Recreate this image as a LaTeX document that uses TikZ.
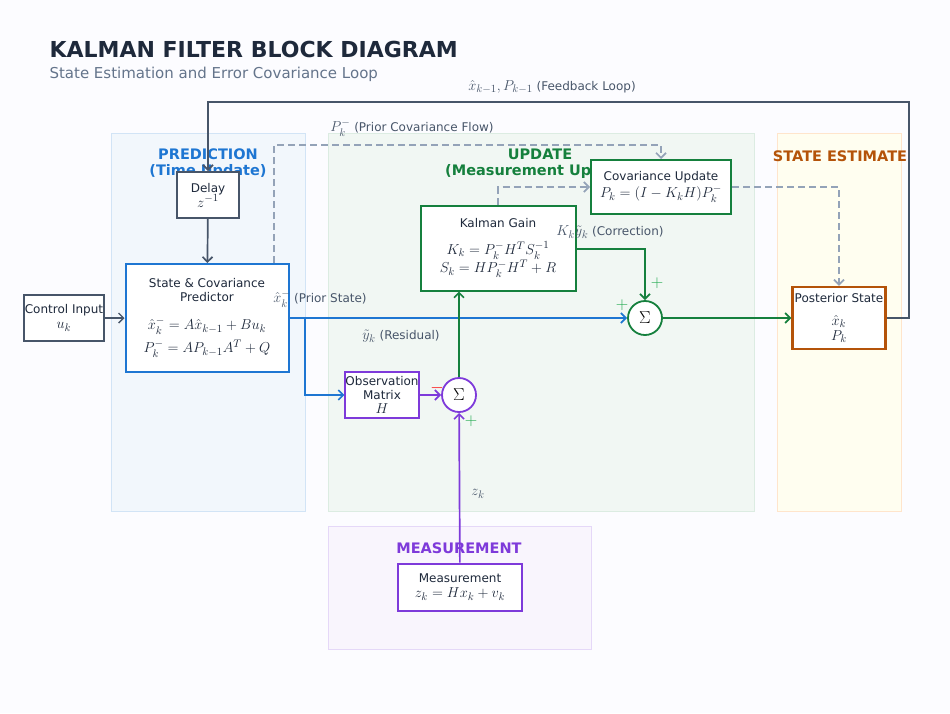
\documentclass[tikz,border=0pt]{standalone}
\usepackage{fontspec}
\setmainfont{DejaVu Sans}
\usepackage{amsmath}
\DeclareMathSizes{12}{15}{11}{9}
\DeclareMathSizes{22}{22}{16}{12}
\DeclareMathSizes{16}{17}{12}{10}
\usetikzlibrary{arrows.meta}
\definecolor{kfblue}{RGB}{30,118,210}
\definecolor{kfgreen}{RGB}{21,128,61}
\definecolor{kforange}{RGB}{180,83,9}
\definecolor{kfpurple}{RGB}{126,58,218}
\definecolor{kfdark}{RGB}{30,41,59}
\definecolor{kfslate}{RGB}{71,85,105}
\definecolor{kfgray}{RGB}{148,163,184}
\definecolor{kftext}{RGB}{100,116,139}
\definecolor{kfplus}{RGB}{34,170,80}
\tikzset{
  block/.style={draw, line width=2pt, fill=white, align=center, font=\fontsize{12}{17}\selectfont, text=kfdark},
  summer/.style={circle, draw, line width=1.8pt, fill=white, minimum size=34pt, inner sep=0pt, font=\fontsize{16}{16}\selectfont},
  panel/.style={line width=1pt},
  ptitle/.style={font=\fontsize{14.5}{16}\selectfont\bfseries, align=center},
  lbl/.style={font=\fontsize{12}{14}\selectfont, text=kfslate},
  sign/.style={font=\fontsize{16}{16}\selectfont},
  arrow/.style={line width=1.7pt, -{Straight Barb[length=5pt,width=10pt]}},
  dasharrow/.style={line width=1.7pt, dash pattern=on 7pt off 4pt, draw=kfgray, -{Straight Barb[length=5pt,width=10pt]}}
}
\begin{document}
\begin{tikzpicture}[x=1pt, y=-1pt]
    % Background and panels
    \fill[white!97!blue!40] (0,0) rectangle (950,713);
    \useasboundingbox (0,0) rectangle (950,713);
    \filldraw[panel, fill=kfblue!6, draw=kfblue!20] (111,133) rectangle (305,511);
    \filldraw[panel, fill=kfgreen!6, draw=kfgreen!15] (328,133) rectangle (754,511);
    \filldraw[panel, fill=yellow!6, draw=orange!20] (777,133) rectangle (901,511);
    \filldraw[panel, fill=kfpurple!5, draw=kfpurple!20] (328,526) rectangle (591,649);

    % Titles
    \node[anchor=west, font=\fontsize{22}{26}\selectfont\bfseries, text=kfdark] (title) at (46,49) {KALMAN FILTER BLOCK DIAGRAM};
    \node[anchor=west, font=\fontsize{15}{17}\selectfont, text=kftext] (subtitle) at (46,74) {State Estimation and Error Covariance Loop};
    \node[ptitle, text=kfblue] (predtitle) at (208,164) {PREDICTION\\(Time Update)};
    \node[ptitle, text=kfgreen] (updtitle) at (540,164) {UPDATE\\(Measurement Update)};
    \node[ptitle, text=kforange] (esttitle) at (840,156) {STATE ESTIMATE};
    \node[ptitle, text=kfpurple] (meastitle) at (459,548) {MEASUREMENT};

    % Blocks
    \node[block, draw=kfslate, minimum width=62pt, minimum height=46pt, font=\fontsize{12}{15}\selectfont] (delay) at (208,195) {Delay\\$z^{-1}$};
    \node[block, draw=kfblue, minimum width=163pt, minimum height=108pt, font=\fontsize{12}{14}\selectfont] (pred) at (207,318) {State \& Covariance\\Predictor\\[14pt]$\hat{x}_k^- = A\hat{x}_{k-1} + Bu_k$\\[4pt]$P_k^- = AP_{k-1}A^T + Q$};
    \node[block, draw=kfslate, line width=1.4pt, minimum width=70pt, minimum height=46pt, inner sep=1pt, font=\fontsize{12}{15}\selectfont] (ctrl) at (64,318) {Control Input\\$u_k$};
    \node[block, draw=kfgreen, minimum width=155pt, minimum height=85pt] (gain) at (498,248) {Kalman Gain\\[10pt]$K_k = P_k^- H^T S_k^{-1}$\\$S_k = HP_k^- H^T + R$};
    \node[block, draw=kfgreen, minimum width=140pt, minimum height=54pt] (covupd) at (661,187) {Covariance Update\\$P_k = (I - K_kH)P_k^-$};
    \node[block, draw=kfpurple, minimum width=70pt, minimum height=46pt, inner sep=0pt, font=\fontsize{12}{14}\selectfont] (obs) at (382,395) {Observation\\Matrix\\$H$};
    \node[summer, draw=kfpurple] (sumres) at (459,395) {$\Sigma$};
    \node[summer, draw=kfgreen] (sumcor) at (645,318) {$\Sigma$};
    \node[block, draw=kforange, line width=2.3pt, minimum width=93pt, minimum height=62pt, inner sep=0pt, font=\fontsize{12}{15}\selectfont] (post) at (839,318) {Posterior State\\[8pt]$\hat{x}_k$\\$P_k$};
    \node[block, draw=kfpurple, minimum width=124pt, minimum height=47pt, font=\fontsize{12}{15}\selectfont] (meas) at (460,587) {Measurement\\$z_k = Hx_k + v_k$};

    % Feedback loop
    \coordinate (fbright) at (909,102);
    \coordinate (fbleft) at (208,102);
    \draw[arrow, draw=kfslate] (post.east) -| (fbright) -- (fbleft) -- (delay.north);
    \node[lbl] (fblbl) at (552,87) {$\hat{x}_{k-1}, P_{k-1}$ (Feedback Loop)};
    \draw[arrow, draw=kfslate] (delay) -- (pred);
    \draw[arrow, draw=kfslate, line width=1.4pt] (ctrl) -- (pred);

    % Prior state flow
    \coordinate (branch) at (305,318);
    \draw[arrow, draw=kfblue] (pred.east) -- (sumcor.west);
    \draw[arrow, draw=kfblue] (branch) |- (obs.west);
    \node[lbl] (priorlbl) at (320,299) {$\hat{x}_k^-$ (Prior State)};

    % Residual
    \draw[arrow, draw=kfpurple] (obs) -- (sumres);
    \draw[arrow, draw=kfpurple] (meas) -- (sumres);
    \node[lbl] (zlbl) at (478,494) {$z_k$};
    \node[sign, text=red] (minus) at (437,388) {$-$};
    \node[sign, text=kfplus] (plusa) at (471,421) {$+$};
    \draw[arrow, draw=kfgreen] (sumres.north) -- (sumres.north |- gain.south);
    \node[lbl] (reslbl) at (401,336) {$\tilde{y}_k$ (Residual)};

    % Correction
    \coordinate (gaincorner) at (645,249);
    \draw[arrow, draw=kfgreen] (gain.east |- gaincorner) -- (gaincorner) -- (sumcor.north);
    \node[lbl] (corlbl) at (610,232) {$K_k\tilde{y}_k$ (Correction)};
    \node[sign, text=kfplus] (plusb) at (657,283) {$+$};
    \node[sign, text=kfplus] (plusc) at (622,305) {$+$};
    \draw[arrow, draw=kfgreen] (sumcor) -- (post);

    % Covariance flow
    \coordinate (pcleft) at (274,145);
    \coordinate (pcright) at (661,145);
    \draw[dasharrow] (pred.north -| pcleft) -- (pcleft) -- (pcright) -- (covupd.north);
    \node[lbl] (pclbl) at (412,128) {$P_k^-$ (Prior Covariance Flow)};
    \draw[dasharrow] (gain.north) |- (covupd.west);
    \draw[dasharrow] (covupd.east) -| (post.north);
\end{tikzpicture}
\end{document}
